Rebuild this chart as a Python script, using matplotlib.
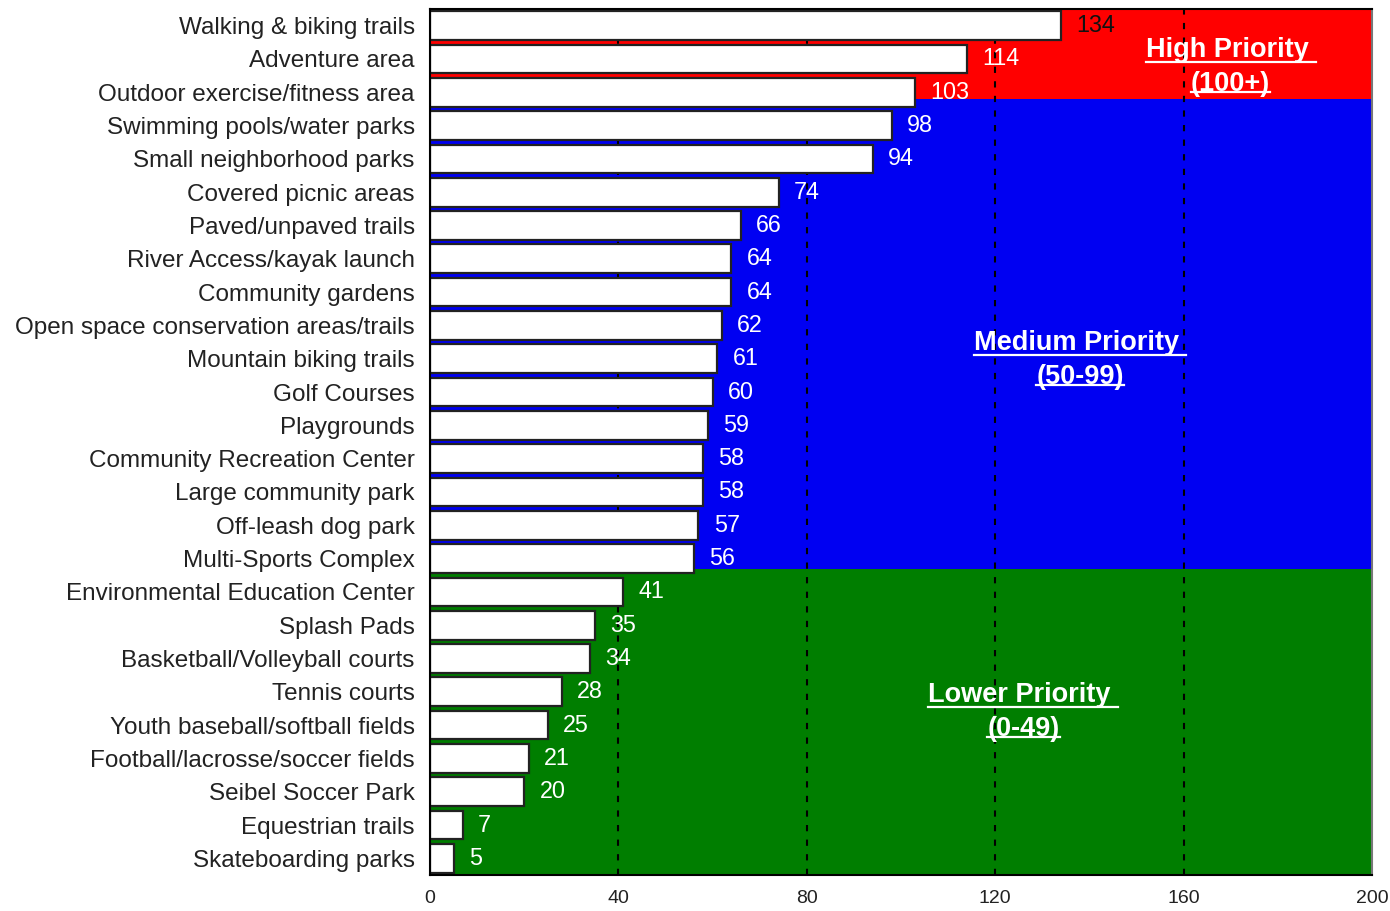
import matplotlib
matplotlib.use("Agg")
import matplotlib.pyplot as plt
from matplotlib.lines import Line2D

categories = [
    "Walking & biking trails", "Adventure area", "Outdoor exercise/fitness area",
    "Swimming pools/water parks", "Small neighborhood parks", "Covered picnic areas",
    "Paved/unpaved trails", "River Access/kayak launch", "Community gardens",
    "Open space conservation areas/trails", "Mountain biking trails", "Golf Courses",
    "Playgrounds", "Community Recreation Center", "Large community park",
    "Off-leash dog park", "Multi-Sports Complex", "Environmental Education Center",
    "Splash Pads", "Basketball/Volleyball courts", "Tennis courts",
    "Youth baseball/softball fields", "Football/lacrosse/soccer fields",
    "Seibel Soccer Park", "Equestrian trails", "Skateboarding parks",
]
values = [134, 114, 103, 98, 94, 74, 66, 64, 64, 62, 61, 60, 59, 58, 58, 57, 56,
          41, 35, 34, 28, 25, 21, 20, 7, 5]
label_colors = ["#111111"] + ["white"] * 25

x_ticks = [0, 40, 80, 120, 160, 200]
band_names = ["High Priority \n(100+)", "Medium Priority \n(50-99)", "Lower Priority \n(0-49)"]
band_colors = ["#FF0000", "#0000F2", "#007E00"]
band_edges = [-0.5, 2.2, 16.3, 25.5]
band_label_pos = [(170, 1.25), (138, 10.05), (126, 20.6)]

plt.rcParams['font.family'] = ['Liberation Sans', 'DejaVu Sans']

W, H = 1390, 911
fig = plt.figure(figsize=(W / 100, H / 100), dpi=100)
ax = fig.add_axes([430 / W, 1 - 875 / H, (1372 - 430) / W, (875 - 9) / H])

n = len(categories)
ypos = list(range(n))

for i in range(3):
    ax.axhspan(band_edges[i], band_edges[i + 1], color=band_colors[i], zorder=0, lw=0)

for xv in x_ticks[1:-1]:
    ax.axvline(xv, color="black", ls=(0, (3, 4)), lw=1.5, zorder=1)

ax.barh(ypos, values, height=0.86, color="white", edgecolor="#222222", lw=1.6, zorder=2)

for y, v, c in zip(ypos, values, label_colors):
    ax.annotate(str(v), (v, y), xytext=(11, 0), textcoords="offset points",
                va="center", ha="left", fontsize=16.8, color=c, zorder=3)

ax.set_xlim(0, 200)
ax.set_ylim(n - 0.5, -0.5)
ax.set_xticks(x_ticks)
ax.set_xticklabels([str(t) for t in x_ticks], fontsize=14, color="#222222")
ax.set_yticks(ypos)
ax.set_yticklabels(categories, fontsize=17.5, color="#222222")
ax.tick_params(axis="both", length=0)
ax.tick_params(axis="y", pad=11)
ax.tick_params(axis="x", pad=11)
for s in ["left", "bottom", "top"]:
    ax.spines[s].set_color("black")
    ax.spines[s].set_linewidth(1.5)
ax.spines["right"].set_color("#777777")
ax.spines["right"].set_linewidth(1.5)

BFS = 19.5
texts = []
for name, (bx, by) in zip(band_names, band_label_pos):
    t = ax.text(bx, by, name, ha="center", va="center", fontsize=BFS,
                fontweight="bold", color="white", linespacing=1.4, zorder=4)
    texts.append(t)

fig.canvas.draw()
renderer = fig.canvas.get_renderer()
for t in texts:
    lines = t.get_text().split("\n")
    bb = t.get_window_extent(renderer)
    nlines = len(lines)
    lh = bb.height / nlines
    for k, line in enumerate(lines):
        tmp = fig.text(0, 0, line, fontsize=BFS, fontweight="bold")
        lw_px = tmp.get_window_extent(renderer).width
        tmp.remove()
        cx = (bb.x0 + bb.x1) / 2
        ybase = bb.y1 - (k + 1) * lh + 5
        fig.add_artist(Line2D([(cx - lw_px / 2) / W, (cx + lw_px / 2) / W],
                              [ybase / H, ybase / H], color="white", lw=1.6, zorder=5))

fig.savefig("out.png", dpi=100)
